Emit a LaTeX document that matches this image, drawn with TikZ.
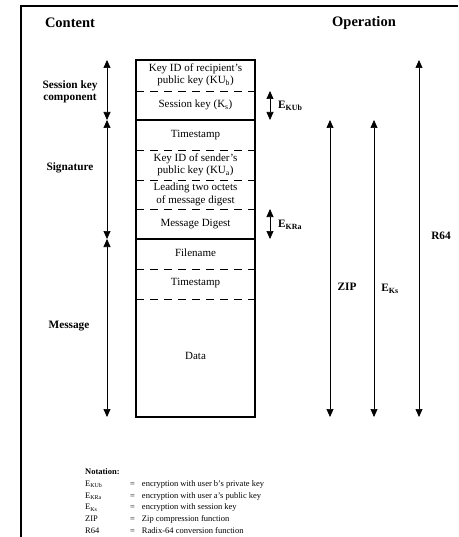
\documentclass[tikz,border=0pt]{standalone}
\usepackage{fontspec}
\setmainfont{Liberation Serif}
\usepackage{amsmath}
\usepackage{tikz}
\usetikzlibrary{positioning,arrows.meta}
\newcommand{\lsub}[1]{$_{\text{#1}}$}

\begin{document}
\begin{tikzpicture}[x=1pt,y=-1pt,
    cell/.style={align=center,inner sep=0pt,font=\fontsize{11}{12.5}\selectfont},
    side/.style={align=center,inner sep=0pt,font=\fontsize{11.3}{12}\selectfont\bfseries},
    head/.style={inner sep=0pt,font=\fontsize{14.5}{16}\selectfont\bfseries},
    sep/.style={line width=0.6pt,dash pattern=on 8pt off 6pt},
    dimarr/.style={line width=0.7pt,{Triangle[length=8pt,width=7pt]}-{Triangle[length=8pt,width=7pt]}}]
  \useasboundingbox (0,0) rectangle (458,537);
  \draw[line width=1.6pt] (458,6) -- (21,6) -- (21,537);
  \node[head] (content) at (70,23) {Content};
  \node[head] (operation) at (364,23) {Operation};
  % message layout
  \draw[line width=1.4pt] (136,60) rectangle (255,417);
  \draw[line width=1.4pt] (136,120) -- (255,120) (136,239) -- (255,239);
  \foreach \yy in {91,150,180,209,269,299} \draw[sep] (136,\yy) -- (255,\yy);
  \node[cell] (kidr) at (195.5,75) {Key ID of recipient's\\public key (KU\lsub{b})};
  \node[cell] (sesk) at (195.5,105) {Session key (K\lsub{s})};
  \node[cell] (ts1) at (195.5,135) {Timestamp};
  \node[cell] (kids) at (195.5,165) {Key ID of sender's\\public key (KU\lsub{a})};
  \node[cell] (lead) at (195.5,194.5) {Leading two octets\\of message digest};
  \node[cell] (md) at (195.5,224) {Message Digest};
  \node[cell] (fn) at (195.5,253) {Filename};
  \node[cell] (ts2) at (195.5,283) {Timestamp};
  \node[cell] (data) at (195.5,356) {Data};
  % content
  \coordinate (c0) at (107,60); \coordinate (c1) at (107,120);
  \coordinate (c2) at (107,239); \coordinate (c3) at (107,417);
  \draw[dimarr] (c0) -- (c1); \draw[dimarr] (c1) -- (c2); \draw[dimarr] (c2) -- (c3);
  \node[side] (skc) at (70,92) {Session key\\component};
  \node[side] (sig) at (70,168) {Signature};
  \node[side] (msg) at (69,326) {Message};
  % operation
  \coordinate (ekubT) at (270,91); \coordinate (ekubB) at (270,120);
  \coordinate (ekraT) at (270,209); \coordinate (ekraB) at (270,239);
  \coordinate (zipT) at (330,120); \coordinate (zipB) at (330,417);
  \coordinate (eksT) at (374,120); \coordinate (eksB) at (374,417);
  \coordinate (r64T) at (419,60); \coordinate (r64B) at (419,417);
  \draw[dimarr] (ekubT) -- (ekubB); \draw[dimarr] (ekraT) -- (ekraB);
  \draw[dimarr] (zipT) -- (zipB); \draw[dimarr] (eksT) -- (eksB); \draw[dimarr] (r64T) -- (r64B);
  \node[side,anchor=west] (ekub) at (278,106) {E\lsub{KUb}};
  \node[side,anchor=west] (ekra) at (278,225) {E\lsub{KRa}};
  \node[side] (zip) at (347,287) {ZIP};
  \node[side] (eks) at (390,289) {E\lsub{Ks}};
  \node[side] (r64) at (441,236) {R64};
  % notation
  \node[inner sep=0pt,anchor=north west,font=\fontsize{8.5}{11.8}\selectfont] (notation) at (85,466) {%
    \begin{tabular}{@{}p{45pt}@{}c@{\hspace{7pt}}l@{}}
      \multicolumn{3}{@{}l}{\textbf{Notation:}}\\
      E\lsub{KUb} & = & encryption with user b's private key\\
      E\lsub{KRa} & = & encryption with user a's public key\\
      E\lsub{Ks} & = & encryption with session key\\
      ZIP & = & Zip compression function\\
      R64 & = & Radix-64 conversion function
    \end{tabular}};
\end{tikzpicture}
\end{document}
